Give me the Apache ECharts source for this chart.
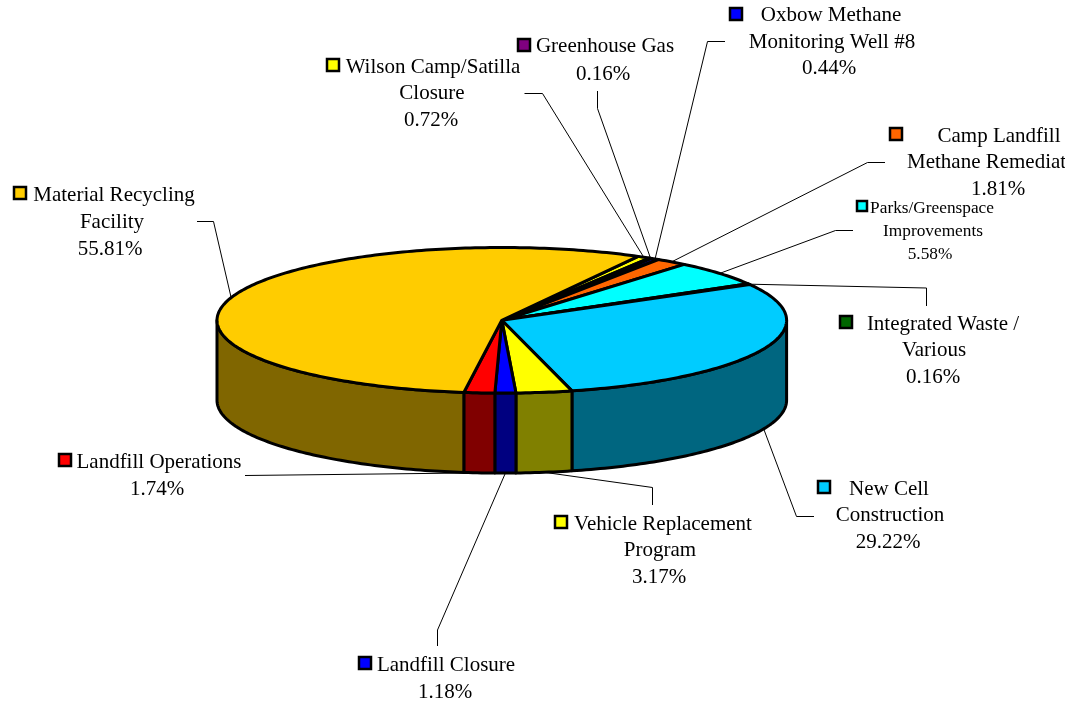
<!DOCTYPE html>
<html>
<head>
<meta charset="utf-8">
<title>Pie</title>
<script src="https://cdn.jsdelivr.net/npm/echarts@6/dist/echarts.min.js"></script>
<style>
html, body { margin: 0; padding: 0; background: #fff; }
#chart { width: 1071px; height: 702px; }
</style>
</head>
<body>
<div id="chart"></div>
<script>
// slices, clockwise from the first slice angle
const sliceNames = [
  ['Wilson Camp/Satilla', 'Closure'],
  ['Greenhouse Gas'],
  ['Oxbow Methane', 'Monitoring Well #8'],
  ['Camp Landfill', 'Methane Remediation'],
  ['Parks/Greenspace', 'Improvements'],
  ['Integrated Waste /', 'Various'],
  ['New Cell', 'Construction'],
  ['Vehicle Replacement', 'Program'],
  ['Landfill Closure'],
  ['Landfill Operations'],
  ['Material Recycling', 'Facility']
]
const sliceValues = [0.72, 0.16, 0.44, 1.81, 5.58, 0.16, 29.22, 3.17, 1.18, 1.74, 55.81]
const topColors = ['#FFFF00', '#800080', '#0000FF', '#FF6600', '#00FFFF', '#006600', '#00CCFF', '#FFFF00', '#0000FF', '#FF0000', '#FFCC00']
const sideColors = ['#808000', '#400040', '#000080', '#803300', '#008080', '#003300', '#006680', '#808000', '#000080', '#800000', '#806600']

// pie geometry
const cx = 501.8
const cy = 320.3
const rx = 284.8
const ry = 72.8
const depth = 80
const firstAngle = 28.6

// label layout: key position, then [centre x, middle y] per line
const labelLayout = [
  { key: [326, 65], lines: [[433, 66], [432, 92], [431, 119]] },
  { key: [517, 45], lines: [[605, 45], [603, 73]] },
  { key: [729, 14], lines: [[831, 14], [832, 41], [829, 67]] },
  { key: [889, 134], lines: [[999, 135], [1000, 161], [998, 188]] },
  { key: [856, 206], lines: [[932, 207], [933, 230], [930, 253]], small: true },
  { key: [839, 322], lines: [[943, 323], [934, 349], [933, 376]] },
  { key: [817, 487], lines: [[889, 488], [890, 514], [888, 541]] },
  { key: [554, 522], lines: [[663, 523], [660, 549], [659, 576]] },
  { key: [358, 663], lines: [[446, 664], [445, 691]] },
  { key: [58, 460], lines: [[159, 461], [157, 488]] },
  { key: [13, 193], lines: [[114, 194], [112, 221], [110, 248]] }
]
// leader lines, from the label towards the pie, the last point is the slice rim
const leaderElbows = [
  [[524.5, 93.5], [542.5, 93.5]],
  [[597.5, 91], [597.5, 108.5]],
  [[725, 41.5], [707.5, 41.5]],
  [[885, 162.5], [867.5, 162.5]],
  [[853, 230.5], [835.5, 230.5]],
  [[926.5, 306], [926.5, 288]],
  [[814, 516.5], [796.5, 516.5]],
  [[652.5, 505], [652.5, 487.5]],
  [[437.5, 646], [437.5, 630]],
  [[245, 475.5]],
  [[197, 221.5], [213.5, 221.5]]
]

const total = sliceValues.reduce((a, b) => a + b, 0)
const spans = []
let acc = firstAngle
sliceValues.forEach((v) => {
  const end = acc + v / total * 360
  spans.push([acc, end])
  acc = end
})
// clockwise degrees from 12 o'clock to a point on the ellipse
const rim = (deg, drop) => {
  const t = deg * Math.PI / 180
  return [cx + rx * Math.sin(t), cy - ry * Math.cos(t) + (drop || 0)]
}
const arc = (from, to, drop) => {
  const pts = []
  const n = Math.max(2, Math.ceil((to - from) / 1))
  for (let i = 0; i <= n; i++) pts.push(rim(from + (to - from) * i / n, drop))
  return pts
}
const edgeStyle = { stroke: '#000', lineWidth: 3, lineJoin: 'round' }

const renderWall = (params) => {
  const i = params.dataIndex
  // only the front half of the ellipse shows a wall
  const from = Math.max(spans[i][0], 90)
  const to = Math.min(spans[i][1], 270)
  if (to <= from) return { type: 'group', children: [] }
  const points = arc(from, to, 0).concat(arc(from, to, depth).reverse())
  return {
    type: 'polygon',
    shape: { points },
    style: Object.assign({ fill: sideColors[i] }, edgeStyle)
  }
}

const renderTop = (params) => {
  const i = params.dataIndex
  const points = [[cx, cy]].concat(arc(spans[i][0], spans[i][1], 0))
  return {
    type: 'polygon',
    shape: { points },
    style: Object.assign({ fill: topColors[i] }, edgeStyle)
  }
}

const renderLeader = (params) => {
  const i = params.dataIndex
  const mid = (spans[i][0] + spans[i][1]) / 2
  const front = mid > 90 && mid < 270
  const points = leaderElbows[i].concat([rim(mid, front ? depth : 0)])
  return {
    type: 'polyline',
    shape: { points },
    style: { stroke: '#000', lineWidth: 1, fill: null }
  }
}

const renderLabel = (params) => {
  const i = params.dataIndex
  const lay = labelLayout[i]
  const texts = sliceNames[i].concat([sliceValues[i].toFixed(2) + '%'])
  const font = (lay.small ? 17.3 : 21) + 'px "Liberation Serif"'
  const size = lay.small ? 10 : 12
  const children = [{
    type: 'rect',
    shape: { x: lay.key[0] + 1, y: lay.key[1] - size / 2, width: size, height: size },
    style: { fill: topColors[i], stroke: '#000', lineWidth: 2.5 }
  }]
  texts.forEach((t, k) => {
    children.push({
      type: 'text',
      style: {
        text: t,
        x: lay.lines[k][0],
        y: lay.lines[k][1] + 1,
        fill: '#000',
        font,
        textAlign: 'center',
        textVerticalAlign: 'middle'
      }
    })
  })
  return { type: 'group', children }
}

const layer = (name, renderItem, z) => ({
  type: 'custom',
  name,
  coordinateSystem: 'none',
  z,
  silent: true,
  animation: false,
  clip: false,
  data: sliceValues,
  renderItem
})

const mChart = echarts.init(document.getElementById('chart'), null, { renderer: 'canvas' })
mChart.setOption({
  backgroundColor: '#fff',
  animation: false,
  graphic: [{
    // the reference frame cuts the long label off here
    type: 'rect',
    z: 100,
    shape: { x: 1065, y: 0, width: 6, height: 702 },
    style: { fill: '#fff' }
  }],
  series: [
    layer('leaders', renderLeader, 1),
    layer('walls', renderWall, 2),
    layer('tops', renderTop, 3),
    layer('labels', renderLabel, 4)
  ]
})
</script>
</body>
</html>
